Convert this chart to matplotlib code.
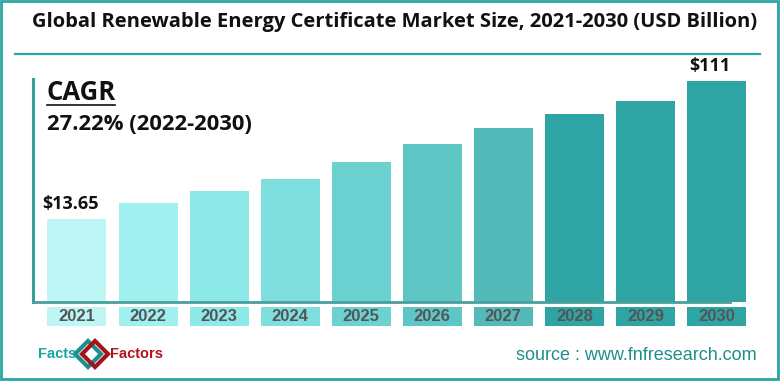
import matplotlib
matplotlib.use("Agg")
import matplotlib.pyplot as plt
from matplotlib.lines import Line2D
from matplotlib.patches import Rectangle
import numpy as np

# data (USD billion)
years = ["2021", "2022", "2023", "2024", "2025", "2026", "2027", "2028", "2029", "2030"]
values = [13.65, 24.9, 33.4, 41.9, 53.9, 66.6, 77.8, 87.7, 96.9, 111]
shown_labels = {0: "$13.65", 9: "$111"}
bar_colors = ["#bef6f5", "#a0f0ef", "#8de9e8", "#7edfde", "#6cd2d1",
              "#5ec7c6", "#53bab9", "#2ea5a4", "#2ea5a4", "#2ea5a4"]

title = "Global Renewable Energy Certificate Market Size, 2021-2030 (USD Billion)"
cagr_value = "27.22% (2022-2030)"
source = "source : www.fnfresearch.com"

W, H = 780, 381
teal = "#2aa7a3"
base = -44.9   # axis does not start at zero in the original


def fx(px):
    return px / W


def fy(py):
    return 1 - py / H


fig = plt.figure(figsize=(W / 100, H / 100), dpi=100)
fig.patch.set_facecolor("white")

# outer frame
fig.add_artist(Rectangle((fx(1), fy(379)), fx(777), 378 / H, transform=fig.transFigure,
                         fill=False, edgecolor=teal, linewidth=2))

# title + rule under it
fig.text(fx(395), fy(22), title, ha="center", va="center", fontsize=14.5,
         fontweight="bold", family="Open Sans", color="#111111")
fig.add_artist(Line2D([fx(15), fx(760)], [fy(54), fy(54)], transform=fig.transFigure,
                      color=teal, linewidth=1.6))

# main bars
ax = fig.add_axes([fx(33), fy(302), fx(727), 262 / H])
x = np.arange(len(years))
heights = [v - base for v in values]
ax.bar(x, heights, bottom=base, width=0.83, color=bar_colors, zorder=2)
ax.set_xlim(-0.619, 9.613)
ax.set_ylim(base, base + 262 / 1.4176)
ax.axis("off")

for i, txt in shown_labels.items():
    ax.annotate(txt, (x[i], values[i]), xytext=(-5, 4), textcoords="offset points",
                ha="center", va="bottom", fontsize=13, fontweight="bold",
                family="Open Sans", color="#111111")

# axis lines
fig.add_artist(Line2D([fx(33), fx(33)], [fy(79), fy(302)], transform=fig.transFigure,
                      color="#3a9e9c", linewidth=2.2, zorder=5))
fig.add_artist(Line2D([fx(33), fx(730)], [fy(302), fy(302)], transform=fig.transFigure,
                      color="#4a9f9d", linewidth=2, zorder=5))

# year label strip
lab = fig.add_axes([fx(33), fy(326), fx(727), 19 / H])
lab.bar(x, [1] * len(x), width=0.83, color=bar_colors)
lab.set_xlim(-0.619, 9.613)
lab.set_ylim(0, 1)
lab.axis("off")
for i, yr in enumerate(years):
    lab.text(x[i], 0.5, yr, ha="center", va="center", fontsize=12, fontweight="bold",
             family="Liberation Sans", color="#555555")

# CAGR box
fig.text(fx(47), fy(93), "CAGR", ha="left", va="center", fontsize=18.5,
         fontweight="bold", family="Open Sans", color="#111111")
fig.add_artist(Line2D([fx(47), fx(115)], [fy(105), fy(105)], transform=fig.transFigure,
                      color="#111111", linewidth=1.2))
fig.text(fx(47), fy(125), cagr_value, ha="left", va="center", fontsize=15.8,
         fontweight="bold", family="Open Sans", color="#111111")

# logo
fig.text(fx(38), fy(354), "Facts", ha="left", va="center", fontsize=10.5,
         fontweight="bold", family="Liberation Sans", color="#16a6a2")
fig.text(fx(110), fy(354), "Factors", ha="left", va="center", fontsize=10.5,
         fontweight="bold", family="Liberation Sans", color="#b5121b")
fig.add_artist(Line2D([fx(88)], [fy(354)], transform=fig.transFigure, marker="D",
                      markersize=13, markerfacecolor="none", markeredgecolor="#1d8f8c",
                      markeredgewidth=3))
fig.add_artist(Line2D([fx(95)], [fy(354)], transform=fig.transFigure, marker="D",
                      markersize=13, markerfacecolor="none", markeredgecolor="#a3141b",
                      markeredgewidth=3))

# source
fig.text(fx(757), fy(355), source, ha="right", va="center", fontsize=13,
         family="Liberation Sans", color="#1f8f8a")

plt.savefig("out.png", dpi=100)
plt.close()
